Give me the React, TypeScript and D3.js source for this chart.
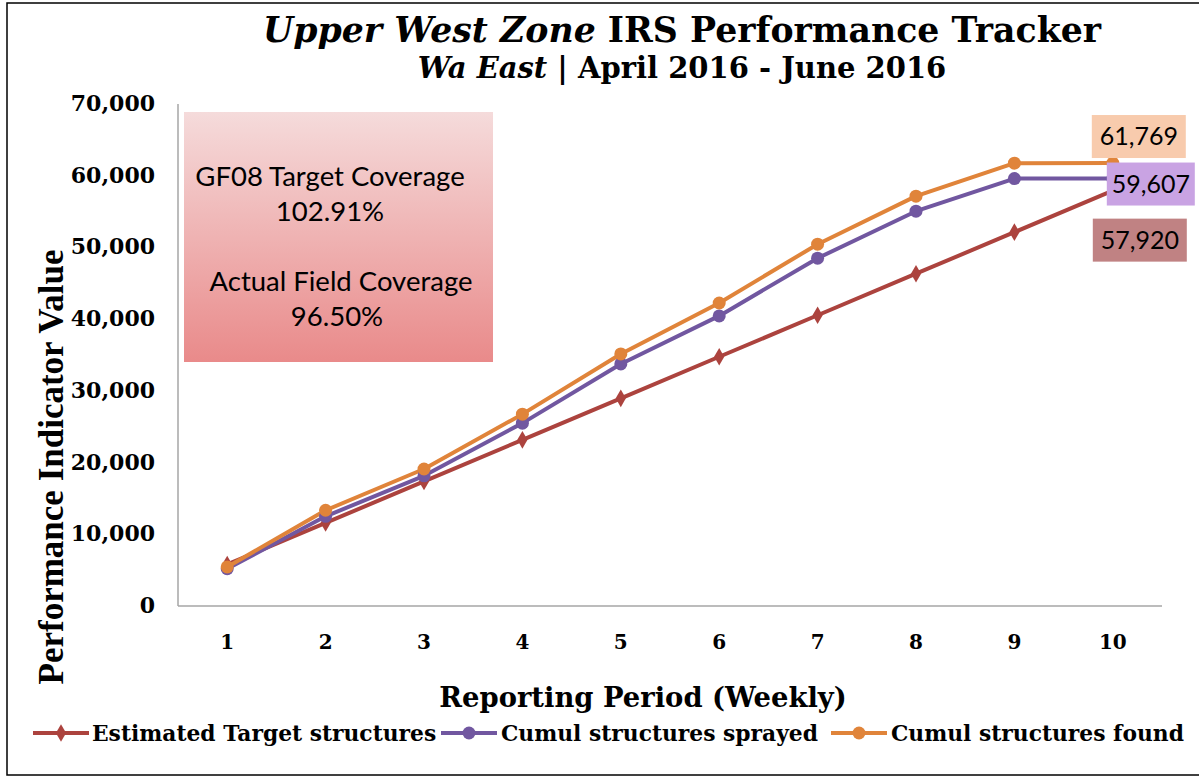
import React, { useEffect } from "react";
import * as d3 from "d3";

const weeks = ["1", "2", "3", "4", "5", "6", "7", "8", "9", "10"];
const estimatedTarget = [5792, 11584, 17376, 23168, 28960, 34752, 40544, 46336, 52128, 57920];
const cumulSprayed = [5200, 12500, 18150, 25500, 33750, 40450, 48500, 55050, 59600, 59607];
const cumulFound = [5450, 13350, 19100, 26750, 35150, 42250, 50450, 57150, 61750, 61769];
const yTicks = [0, 10000, 20000, 30000, 40000, 50000, 60000, 70000];

const seriesNames = ["Estimated Target structures", "Cumul structures sprayed", "Cumul structures found"];
const seriesColors = ["#AC433E", "#7157A0", "#E0843A"];
const labelFills = ["#C08283", "#C9A3E3", "#F8CBAD"];

const W = 1199;
const H = 778;
const serif = "'DejaVu Serif', Georgia, serif";
const times = "'Liberation Serif', 'Times New Roman', serif";
const sans = "Lato, Carlito, Calibri, 'Open Sans', sans-serif";

export default function App() {
  useEffect(() => {
    document.body.style.margin = "0";
  }, []);

  const x = d3.scaleBand<string>().domain(weeks).range([178, 1162]).padding(0);
  const cx = (w: string) => (x(w) as number) + x.bandwidth() / 2;
  const y = d3.scaleLinear().domain([0, 70000]).range([606, 104]);
  const fmt = d3.format(",");

  const line = d3
    .line<number>()
    .x((_, i) => cx(weeks[i]))
    .y((d) => y(d));

  const series = [estimatedTarget, cumulSprayed, cumulFound];
  const diamond = d3.symbol().type(d3.symbolDiamond).size(90)() as string;

  const lastW = weeks[weeks.length - 1];
  const endLabels = [
    { v: cumulFound[9], fill: labelFills[2], dx: -21, w: 94, y: y(cumulFound[9]) - 27 },
    { v: cumulSprayed[9], fill: labelFills[1], dx: -6, w: 88, y: y(cumulSprayed[9]) + 5 },
    { v: estimatedTarget[9], fill: labelFills[0], dx: -20, w: 94, y: y(estimatedTarget[9]) + 49 },
  ];

  const legendItems = [
    { x0: 33, tx: 92 },
    { x0: 441, tx: 501 },
    { x0: 831, tx: 891 },
  ];

  return (
    <svg width={W} height={H} style={{ display: "block", background: "#fff" }}>
      <defs>
        <linearGradient id="boxGrad" x1="0" y1="0" x2="0" y2="1">
          <stop offset="0%" stopColor="#F5DBDB" />
          <stop offset="100%" stopColor="#E98A8A" />
        </linearGradient>
      </defs>
      <rect x={7} y={3} width={1200} height={772} fill="#fff" stroke="#000" strokeWidth={1.5} />

      {/* Title */}
      <text x={682} y={42} textAnchor="middle" fontFamily={serif} fontWeight="bold" fontSize={34.7} fill="#000">
        <tspan fontStyle="italic">Upper West Zone</tspan>
        <tspan> IRS Performance Tracker</tspan>
      </text>
      <text x={682} y={78} textAnchor="middle" fontFamily={serif} fontWeight="bold" fontSize={29} fill="#000">
        <tspan fontStyle="italic">Wa East</tspan>
        <tspan> | April 2016 - June 2016</tspan>
      </text>

      {/* Axes */}
      <line x1={178} y1={104} x2={178} y2={606} stroke="#A6A6A6" strokeWidth={1.5} />
      <line x1={178} y1={606} x2={1162} y2={606} stroke="#A6A6A6" strokeWidth={1.5} />
      {yTicks.map((t) => (
        <text key={t} x={155} y={y(t) + 7} textAnchor="end" fontFamily={serif} fontWeight="bold" fontSize={22} fill="#000">
          {fmt(t)}
        </text>
      ))}
      {weeks.map((w) => (
        <text key={w} x={cx(w)} y={649} textAnchor="middle" fontFamily={serif} fontWeight="bold" fontSize={20} fill="#000">
          {w}
        </text>
      ))}
      <text
        transform={`translate(63,${467}) rotate(-90)`}
        textAnchor="middle"
        fontFamily={times}
        fontWeight="bold"
        fontSize={35}
        fill="#000"
      >
        Performance Indicator Value
      </text>
      <text x={643} y={707} textAnchor="middle" fontFamily={serif} fontWeight="bold" fontSize={27.4} fill="#000">
        Reporting Period (Weekly)
      </text>

      {/* Coverage box */}
      <rect x={184} y={112} width={309} height={250} fill="url(#boxGrad)" />
      <g fontFamily={sans} fontSize={27.5} fill="#000" textAnchor="middle">
        <text x={330} y={186}>GF08 Target Coverage</text>
        <text x={330} y={221}>102.91%</text>
        <text x={341} y={291}>Actual Field Coverage</text>
        <text x={337} y={326}>96.50%</text>
      </g>

      {/* Lines */}
      {series.map((s, si) => (
        <path key={si} d={line(s) as string} fill="none" stroke={seriesColors[si]} strokeWidth={4} strokeLinejoin="round" />
      ))}
      {series.map((s, si) =>
        s.map((v, i) =>
          si === 0 ? (
            <path key={`${si}-${i}`} d={diamond} transform={`translate(${cx(weeks[i])},${y(v)})`} fill={seriesColors[0]} />
          ) : (
            <circle key={`${si}-${i}`} cx={cx(weeks[i])} cy={y(v)} r={6.5} fill={seriesColors[si]} />
          )
        )
      )}

      {/* End labels */}
      {endLabels.map((l, i) => (
        <g key={i}>
          <rect x={cx(lastW) + l.dx} y={l.y - 21} width={l.w} height={43} fill={l.fill} />
          <text
            x={cx(lastW) + l.dx + l.w / 2}
            y={l.y + 9}
            textAnchor="middle"
            fontFamily={sans}
            fontSize={25}
            fill="#000"
          >
            {fmt(l.v)}
          </text>
        </g>
      ))}

      {/* Legend */}
      {legendItems.map((it, i) => (
        <g key={i}>
          <line x1={it.x0} y1={733} x2={it.x0 + 56} y2={733} stroke={seriesColors[i]} strokeWidth={4} />
          {i === 0 ? (
            <path d={diamond} transform={`translate(${it.x0 + 28},733)`} fill={seriesColors[0]} />
          ) : (
            <circle cx={it.x0 + 28} cy={733} r={6.5} fill={seriesColors[i]} />
          )}
          <text x={it.tx} y={741} fontFamily={serif} fontWeight="bold" fontSize={21.8} fill="#000">
            {seriesNames[i]}
          </text>
        </g>
      ))}
    </svg>
  );
}
